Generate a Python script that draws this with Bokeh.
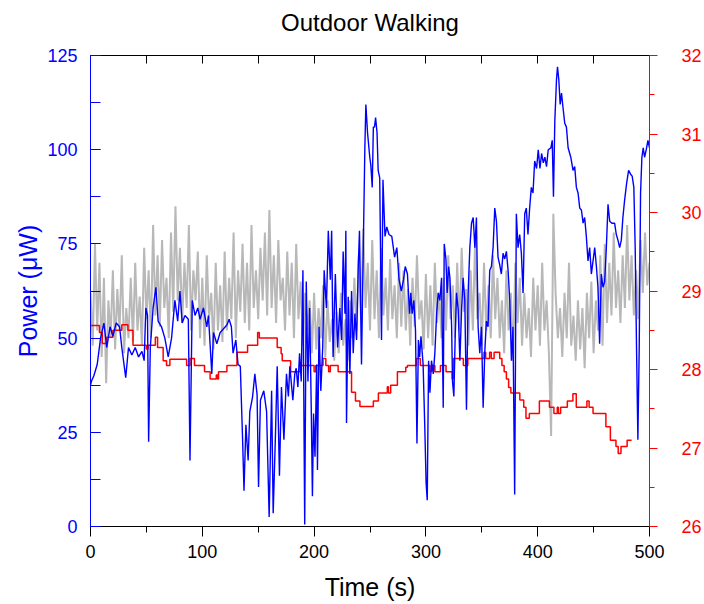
from bokeh.plotting import figure
from bokeh.models import Range1d, LinearAxis, SingleIntervalTicker, FixedTicker
from bokeh.embed import file_html
from bokeh.resources import INLINE

title_text = "Outdoor Walking"
x_label = "Time (s)"
left_label = "Power (\u03bcW)"

blue_t = [0, 1, 3, 6, 9, 12, 14.5, 17.5, 20, 23,
          26, 28, 31.5, 34, 37, 40, 43, 46, 48, 49.5,
          51, 52, 53.5, 56, 58.5, 60.5, 63.5, 66.5, 69.5, 72.5,
          75.5, 78, 80, 82, 84.5, 87.5, 89, 91, 93.5, 96,
          98, 101, 104, 105.5, 108.5, 110, 113, 116, 119, 122,
          124, 126, 127.5, 130, 132, 134, 136, 137.3, 139, 141,
          142.5, 145, 147, 149, 150.3, 152, 155, 157.5, 159.8, 162,
          163.4, 165.5, 167, 169, 170.8, 173, 175.3, 177, 178.3, 181,
          182.7, 184, 185.5, 187, 188.5, 190, 191.6, 193, 194.5, 196,
          197.5, 198.5, 199.5, 200.8, 202.3, 203, 204.4, 206, 207.7, 209,
          211, 212.7, 214.5, 215.7, 217, 219, 221, 223, 224.6, 226,
          227.6, 228.4, 229, 230.5, 232, 233.5, 235, 236.5, 238, 239.5,
          240.6, 242.4, 244, 245.4, 246.3, 247.8, 249.8, 250.7, 252, 253,
          254, 255, 256.3, 257.3, 258.7, 260.3, 261.6, 263.4, 265, 267,
          269.5, 272, 274, 276, 278, 280, 281.5, 283.5, 285.4, 286.5,
          287.7, 289.2, 290.7, 292, 293.3, 294.4, 295.6, 297.5, 299, 300.2,
          301.2, 302.4, 303.6, 305, 306.6, 308, 309.6, 311, 312.5, 314,
          315.5, 316.4, 317.9, 319, 320.3, 321.5, 323, 323.8, 325, 326.2,
          327.4, 328.9, 330.4, 331.9, 333.3, 334.8, 336.3, 337.8, 339.3, 340.8,
          342.3, 343.8, 345.2, 346.7, 348.2, 349.7, 351.2, 352.7, 354.1, 355.6,
          357.1, 358.6, 360.1, 361.6, 363.1, 364.5, 366, 367.5, 369, 370.5,
          372, 373.5, 375, 376.5, 377.9, 379.4, 380.9, 382.4, 383.9, 385.4,
          386.9, 388.4, 389.8, 391.3, 392.8, 394.3, 395.8, 397.3, 399, 400.5,
          402, 403.5, 405, 406.4, 407.9, 409.4, 411.8, 413, 414.1, 415.3,
          416.8, 417.7, 418.9, 420.1, 421.3, 422.7, 424.2, 425.7, 427.2, 429.6,
          431.6, 433.1, 434.6, 436.1, 437.6, 439.1, 440.6, 442, 443.5, 445,
          446.5, 448, 449.5, 451, 452.5, 453.9, 455.4, 456.9, 458.4, 459.9,
          461.4, 462.9, 464.4, 466.4, 468.8, 470.3, 471.8, 473.3, 474.8, 476.2,
          477.7, 479.5, 481.3, 483.1, 484.5, 486, 487.2, 488.4, 489.6, 490.8,
          492, 493.2, 494.4, 495.6, 497.1, 498.6, 500]
blue_v = [37.5, 38.7, 40, 43, 50, 54, 47.5, 53, 50.5, 54,
          53, 47.5, 39.5, 47.5, 45.5, 47.5, 45, 46.5, 44, 58,
          56, 22.5, 47.5, 58, 63.5, 54.5, 53, 50, 45, 50,
          60, 54.5, 62.5, 54, 56, 55, 17.5, 60, 56, 58,
          55, 58, 53, 56, 40.5, 51.5, 48.5, 51.5, 52.5, 53.5,
          55, 53, 46, 49.5, 43, 42.5, 23.5, 9.5, 27, 17.5,
          30.5, 34.5, 40.5, 35, 10.5, 33.5, 36, 30.5, 2.5, 36,
          3.5, 25, 42.5, 13.5, 37, 23, 40.5, 34.5, 42.5, 33.5,
          40.5, 42, 37, 46, 38.5, 68, 0.5, 65, 38.5, 58,
          30.5, 8, 30, 18.5, 43, 15, 53, 36, 47.5, 68,
          58, 78.5, 65.5, 78.5, 45, 67, 47.5, 58, 49.5, 73,
          56.5, 78.5, 27.5, 61, 40.5, 62.5, 46, 56.5, 49.5, 69,
          78.5, 43, 74, 100.5, 112, 104.5, 98, 96, 90, 106,
          106, 108.5, 104.5, 94.5, 92.5, 49.5, 92, 77, 79.5, 77.5,
          77, 71.5, 74, 65.5, 62.5, 65.5, 69, 67, 56.5, 62,
          56.5, 60, 52, 22, 49.5, 45, 50.5, 43, 26.5, 11.5,
          7, 44, 35.5, 44, 40.5, 46, 56.5, 62, 60, 66,
          31.5, 75, 71, 62, 69, 66, 53, 38.5, 34.5, 50.5,
          62, 57.5, 44, 57.5, 66, 60, 31, 62, 74, 80.5,
          82, 74, 82, 53, 46, 53, 31.5, 46.5, 54.5, 53,
          68, 69, 74, 84.5, 81, 71.5, 69.5, 67, 72.5, 71,
          73, 68, 60, 44, 53, 8.5, 83, 74, 77.5, 72.5,
          62, 83, 84.5, 77.5, 84.5, 90, 88.5, 97, 95, 100,
          95, 99, 96.5, 98, 95.5, 100, 100.5, 102.5, 87.5, 107.5,
          118.5, 122, 118.5, 112, 115, 111, 107, 106, 100.5, 98,
          94.5, 95.5, 90, 88.5, 84.5, 84, 80.5, 82, 77, 70.5,
          74, 67, 70.5, 74, 69, 63.5, 48.5, 67, 63.5, 65,
          74, 85.5, 81, 80.5, 80.5, 77.5, 76, 74, 76, 82,
          86.5, 91, 94.5, 93.5, 93, 90, 74, 47.5, 23, 47.5,
          88.5, 98, 100.5, 98, 100, 102.5, 100.5]

gray_t = list(range(0, 501, 2))
gray_v = [62, 48, 75, 52, 70, 45, 66, 38, 60, 50,
          68, 47, 63, 52, 72, 46, 58, 50, 66, 49,
          70, 52, 61, 48, 74, 55, 68, 50, 80, 56,
          72, 53, 76, 58, 66, 50, 78, 57, 85, 60,
          74, 54, 70, 58, 80, 52, 68, 60, 73, 50,
          66, 48, 72, 55, 62, 47, 70, 52, 64, 49,
          73, 52, 66, 55, 78, 50, 68, 57, 75, 54,
          70, 52, 80, 58, 68, 55, 74, 60, 78, 56,
          84, 58, 72, 54, 76, 60, 66, 52, 73, 56,
          70, 50, 75, 55, 65, 48, 62, 52, 60, 46,
          62, 47, 58, 50, 64, 45, 60, 49, 55, 44,
          57, 46, 62, 48, 55, 44, 60, 50, 66, 52,
          72, 55, 79, 58, 70, 52, 76, 55, 68, 50,
          74, 56, 66, 52, 71, 55, 64, 50, 70, 53,
          68, 52, 63, 48, 66, 53, 72, 55, 60, 47,
          67, 50, 64, 48, 70, 54, 62, 50, 66, 52,
          72, 55, 64, 50, 70, 52, 74, 57, 63, 48,
          68, 52, 76, 55, 62, 48, 70, 52, 64, 50,
          72, 55, 66, 50, 60, 46, 68, 52, 62, 44,
          70, 54, 66, 48, 62, 50, 58, 45, 66, 52,
          64, 48, 70, 52, 60, 46, 24, 83, 62, 50,
          58, 45, 62, 50, 70, 48, 56, 44, 60, 47,
          58, 42, 62, 50, 65, 46, 60, 52, 72, 48,
          75, 54, 70, 56, 78, 58, 68, 54, 72, 58,
          80, 60, 72, 56, 68, 55, 76, 62, 78, 64,
          70]

red_t = [0, 8, 10.5, 14.5, 20, 28, 33.5, 38, 50, 51.5,
         58, 60, 65, 68, 71, 86, 89, 93, 102, 107,
         112.5, 113.5, 114.5, 122, 131, 140.5, 149.5, 151, 167, 170.5,
         171.5, 179, 187.5, 200, 201.5, 208, 210.5, 213, 214.5, 221.5,
         233.5, 237, 241, 253, 257.5, 265.5, 266.5, 268.5, 274.5, 282,
         283.5, 291.5, 295, 303.5, 305, 308, 313, 318, 323.5, 324.5,
         333.5, 337.5, 352, 353.5, 357, 358.5, 361, 366, 368, 370,
         372, 374, 376, 384, 387.5, 389.5, 392.5, 401.5, 410.5, 414.5,
         417.5, 418.5, 420.5, 426.5, 431.5, 434.5, 444, 446, 449.5, 461,
         465, 470, 472, 474.5, 480, 484]
red_v = [28.56, 28.47, 28.33, 28.41, 28.5, 28.57, 28.5, 28.31, 28.26, 28.31,
         28.41, 28.28, 28.11, 28.05, 28.13, 28.05, 28.14, 28.05, 27.97, 27.88,
         27.93, 27.88, 27.97, 28.05, 28.22, 28.31, 28.47, 28.4, 28.28, 28.2,
         28.11, 27.97, 28.05, 27.97, 28.05, 28.14, 28.05, 27.97, 28.05, 27.97,
         27.71, 27.6, 27.53, 27.6, 27.7, 27.78, 27.7, 27.8, 27.97, 28.03,
         28.05, 28.14, 28.05, 27.97, 28.05, 27.97, 28.05, 27.97, 27.88, 28.14,
         28.05, 28.14, 28.22, 28.14, 28.22, 28.14, 28.22, 28.14, 28.05, 27.97,
         27.88, 27.77, 27.7, 27.61, 27.52, 27.38, 27.44, 27.6, 27.52, 27.44,
         27.52, 27.44, 27.52, 27.6, 27.69, 27.52, 27.6, 27.52, 27.44, 27.27,
         27.1, 27.02, 26.93, 27.02, 27.1, 27.1]

FONT = "Liberation Sans"
BLUE = "#0000ff"
RED = "#ff0000"
GRAY = "#b8b8b8"

p = figure(width=704, height=604, output_backend="svg", toolbar_location=None,
           x_range=Range1d(0, 500), y_range=Range1d(0, 125),
           min_border_left=90, min_border_right=53, min_border_top=55, min_border_bottom=78,
           x_axis_location="below", y_axis_location="left")
p.extra_y_ranges = {"temp": Range1d(26, 32)}
p.xgrid.visible = False
p.ygrid.visible = False
p.outline_line_color = "black"
p.outline_line_width = 1
p.background_fill_color = "white"
p.border_fill_color = "white"

# bottom axis
xa = p.xaxis[0]
xa.ticker = SingleIntervalTicker(interval=100, num_minor_ticks=2)
xa.axis_label = x_label
xa.axis_label_text_font = FONT
xa.axis_label_text_font_size = "25px"
xa.axis_label_text_font_style = "normal"
xa.axis_label_text_color = "black"
xa.axis_label_standoff = 12
xa.major_label_text_font = FONT
xa.major_label_text_font_size = "18px"
xa.major_label_text_color = "black"
xa.major_label_standoff = 8
xa.major_tick_in = 0
xa.major_tick_out = 10
xa.minor_tick_in = 0
xa.minor_tick_out = 6
xa.axis_line_color = "black"
xa.major_tick_line_color = "black"
xa.minor_tick_line_color = "black"

# left axis
ya = p.yaxis[0]
ya.ticker = SingleIntervalTicker(interval=25, num_minor_ticks=2)
ya.axis_label = left_label
ya.axis_label_text_font = FONT
ya.axis_label_text_font_size = "25px"
ya.axis_label_text_font_style = "normal"
ya.axis_label_text_color = BLUE
ya.axis_label_standoff = 2
ya.major_label_text_font = FONT
ya.major_label_text_font_size = "18px"
ya.major_label_text_color = BLUE
ya.major_label_standoff = 13
ya.axis_line_color = BLUE
ya.major_tick_line_color = BLUE
ya.minor_tick_line_color = BLUE
ya.major_tick_in = 10
ya.major_tick_out = 0
ya.minor_tick_in = 10
ya.minor_tick_out = 0

# right axis
ra = LinearAxis(y_range_name="temp",
                ticker=SingleIntervalTicker(interval=1, num_minor_ticks=2))
ra.major_label_text_font = FONT
ra.major_label_text_font_size = "18px"
ra.major_label_text_color = RED
ra.major_label_standoff = 24
ra.axis_line_color = RED
ra.major_tick_line_color = RED
ra.minor_tick_line_color = RED
ra.major_tick_in = 0
ra.major_tick_out = 8
ra.minor_tick_in = 0
ra.minor_tick_out = 5
p.add_layout(ra, "right")

# top axis: ticks only, the chart title is carried as its label
ta = LinearAxis(ticker=FixedTicker(ticks=[], minor_ticks=[0, 50, 100, 150, 200, 250, 300, 350, 400, 450, 500]))
ta.axis_line_color = "black"
ta.minor_tick_line_color = "black"
ta.minor_tick_in = 8
ta.minor_tick_out = 0
ta.major_tick_in = 0
ta.major_tick_out = 0
ta.axis_label = title_text
ta.axis_label_text_font = FONT
ta.axis_label_text_font_size = "24px"
ta.axis_label_text_font_style = "normal"
ta.axis_label_text_color = "black"
ta.axis_label_standoff = 20
p.add_layout(ta, "above")

p.line(gray_t, gray_v, line_color=GRAY, line_width=2.0)
p.step(red_t, red_v, mode="after", y_range_name="temp", line_color=RED, line_width=1.5)
p.line(blue_t, blue_v, line_color=BLUE, line_width=1.4)

open("out.html", "w").write(file_html(p, INLINE))
